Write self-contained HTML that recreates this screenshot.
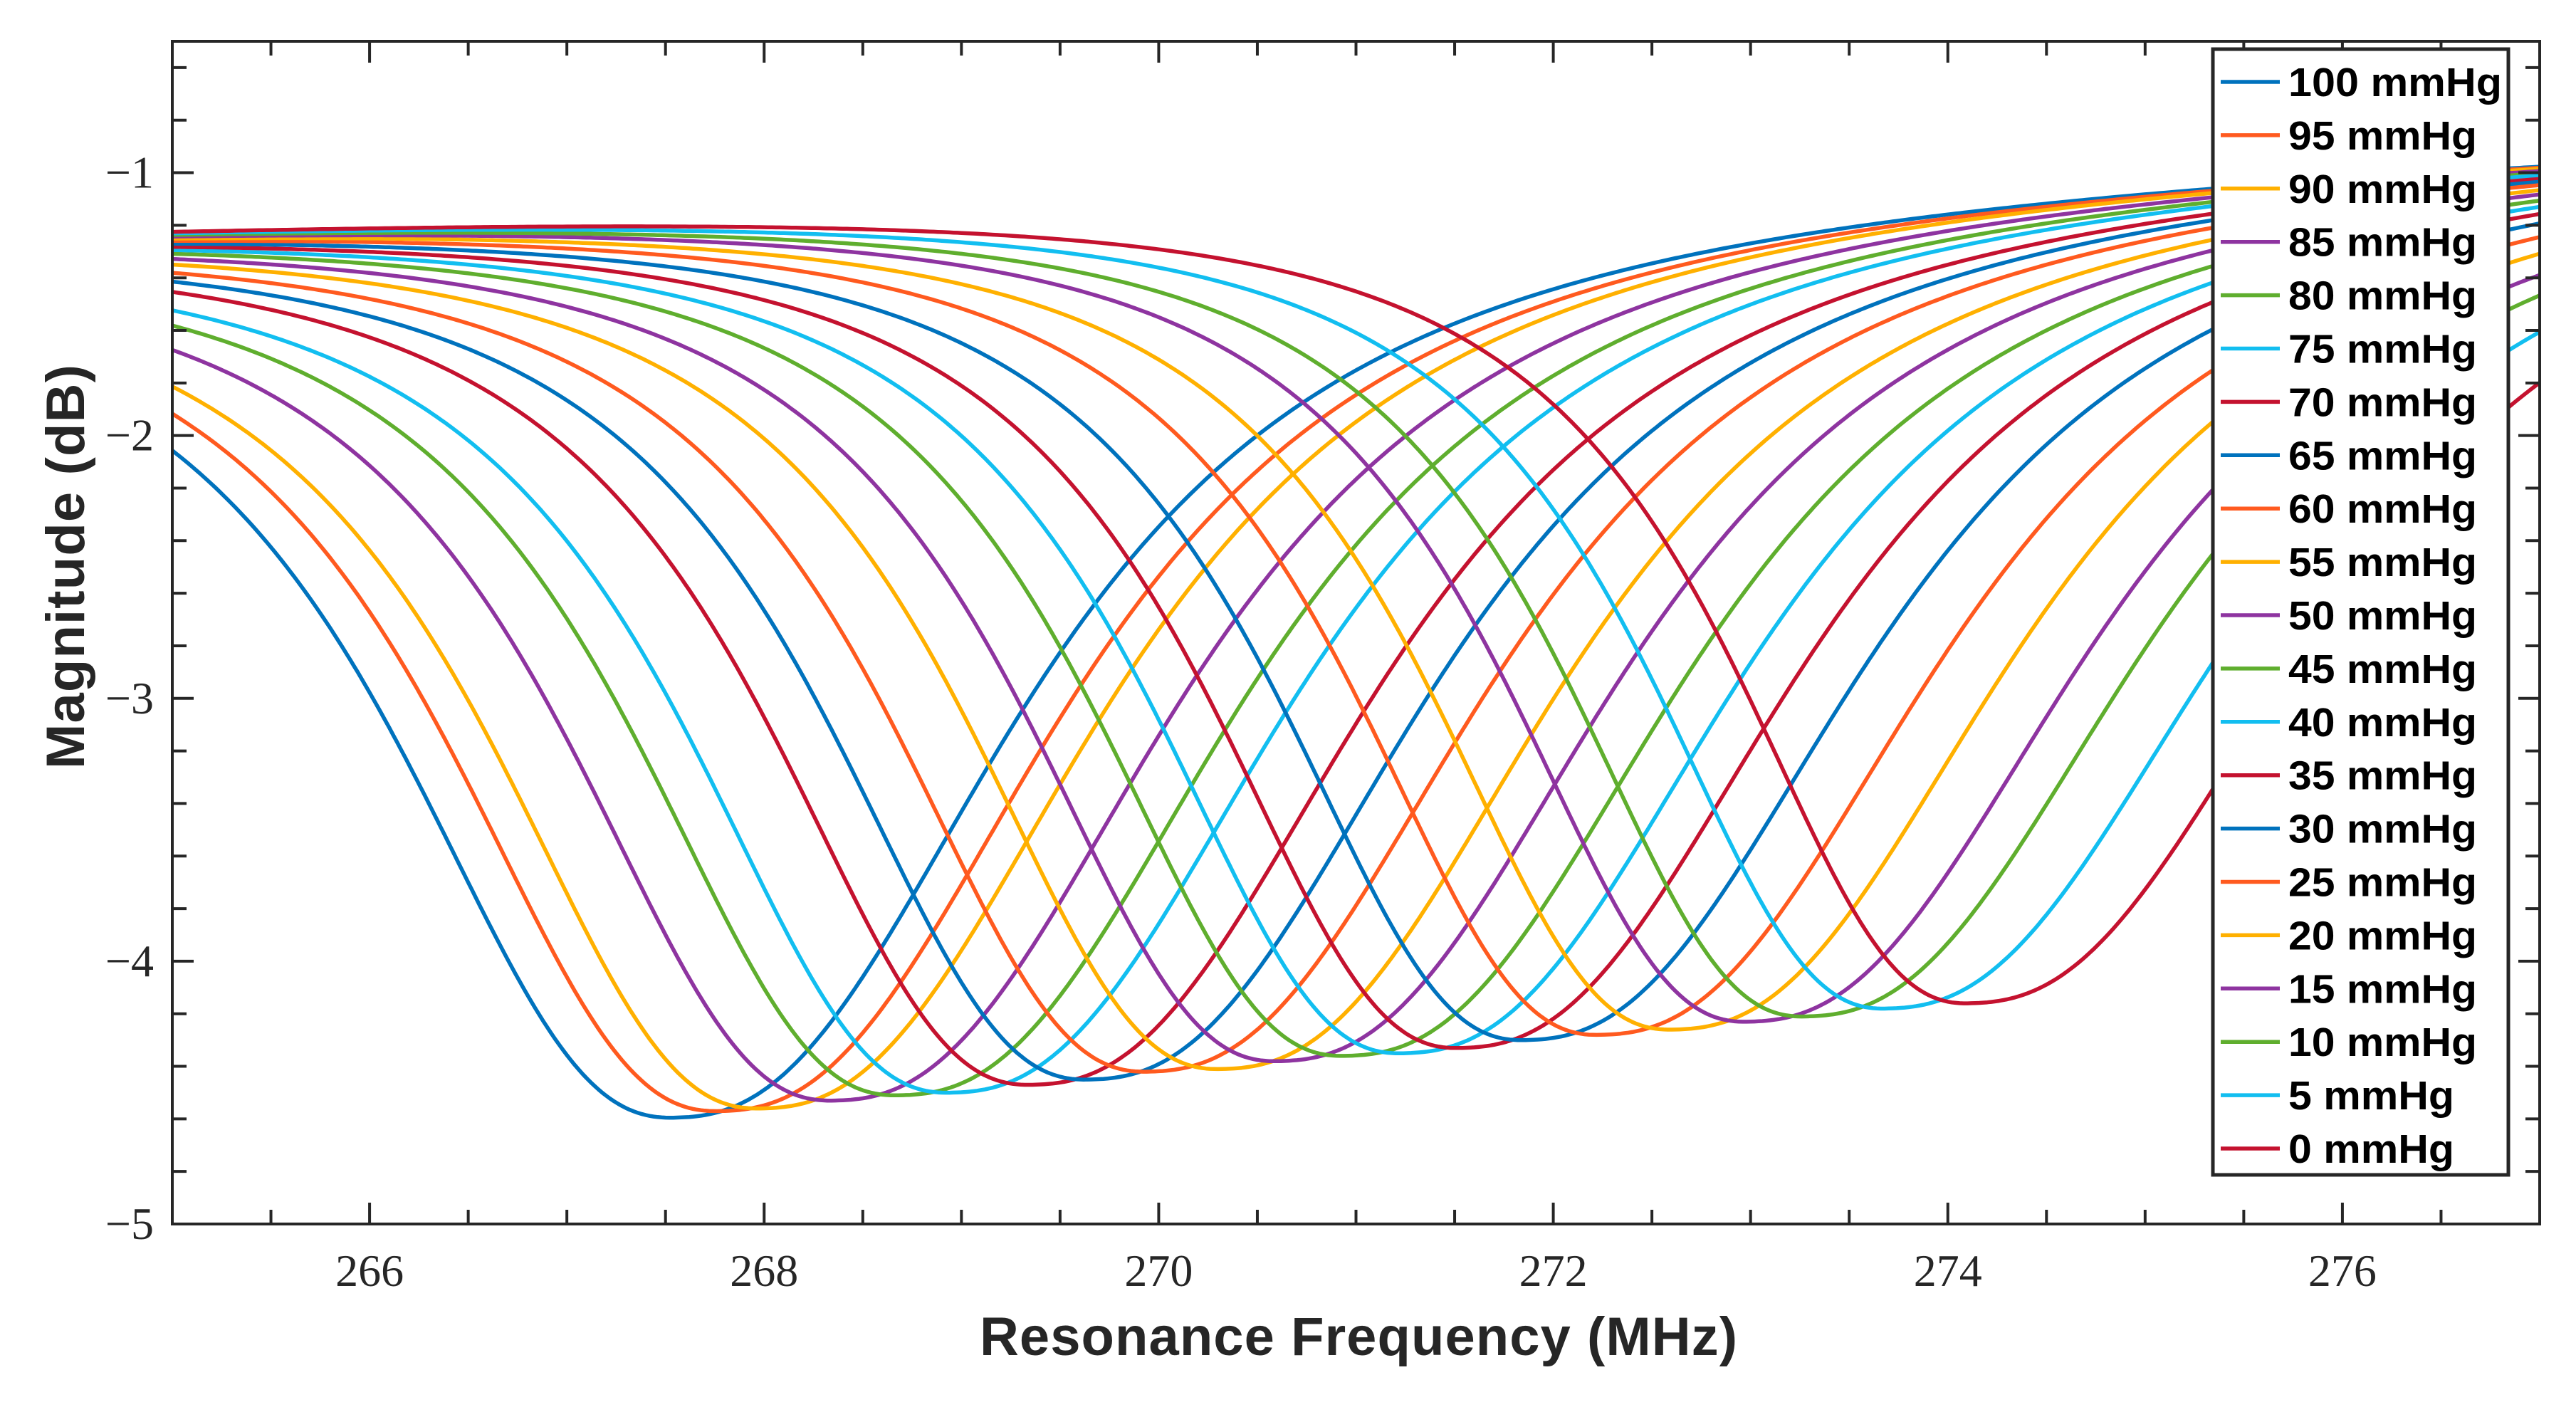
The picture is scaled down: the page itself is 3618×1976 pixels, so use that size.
<!DOCTYPE html>
<html><head><meta charset="utf-8"><style>
html,body{margin:0;padding:0;background:#fff;}
svg{display:block;}
</style></head><body>
<svg id="chart" width="3618" height="1976" viewBox="0 0 3618 1976" xmlns="http://www.w3.org/2000/svg">
<rect x="0" y="0" width="3618" height="1976" fill="#fff"/>
<g id="plot"></g>
<g id="axes"></g>
<g id="legend"></g>
<text x="1908" y="1903" text-anchor="middle" font-family="Liberation Sans, sans-serif" font-weight="bold" font-size="76" textLength="1064" fill="#262626">Resonance Frequency (MHz)</text>
<text transform="translate(118,796) rotate(-90)" text-anchor="middle" font-family="Liberation Sans, sans-serif" font-weight="bold" font-size="76" textLength="568" fill="#262626">Magnitude (dB)</text>
</svg>
<script>
// ---- data ----
const seriesLabels = ["100 mmHg","95 mmHg","90 mmHg","85 mmHg","80 mmHg","75 mmHg","70 mmHg","65 mmHg","60 mmHg","55 mmHg","50 mmHg","45 mmHg","40 mmHg","35 mmHg","30 mmHg","25 mmHg","20 mmHg","15 mmHg","10 mmHg","5 mmHg","0 mmHg"];
const minFreq = [267.56,267.79,268.0,268.37,268.7,268.96,269.37,269.66,269.96,270.33,270.62,270.96,271.25,271.54,271.87,272.25,272.62,273.0,273.29,273.7,274.12];
const minMag = [-4.595,-4.57,-4.56,-4.53,-4.51,-4.50,-4.47,-4.45,-4.42,-4.41,-4.38,-4.36,-4.35,-4.33,-4.30,-4.28,-4.26,-4.23,-4.21,-4.18,-4.16];
const leftWidth = [1.62,1.61,1.6,1.59,1.58,1.57,1.56,1.55,1.54,1.53,1.52,1.51,1.5,1.49,1.48,1.47,1.46,1.45,1.43,1.42,1.4];
const rightWidth = [1.95,1.95,1.95,1.95,1.95,1.95,1.95,1.95,1.95,1.95,1.95,1.95,1.95,1.95,1.95,1.95,1.95,1.95,1.95,1.95,1.95];
const baseStart = -1.19, baseEnd = -0.9;
const xTicks = [266,268,270,272,274,276];
const yTicks = [-1,-2,-3,-4,-5];
const palette = ["#0072BD","#FF5A1F","#FFB000","#8E34A0","#5FAE2E","#12BEF0","#C4122F"];

// ---- axes ----
const X0=242, X1=3567, Y0=58, Y1=1719;
const xMin=265, xMax=277, yMin=-5, yMax=-0.5;
const sx = v => X0 + (v-xMin)/(xMax-xMin)*(X1-X0);
const sy = v => Y1 - (v-yMin)/(yMax-yMin)*(Y1-Y0);
const NS="http://www.w3.org/2000/svg";
function mk(tag, attrs, parent){const e=document.createElementNS(NS,tag);for(const k in attrs)e.setAttribute(k,attrs[k]);parent.appendChild(e);return e;}

const plot=document.getElementById('plot');
const clip=mk('clipPath',{id:'clp'},document.getElementById('chart'));
mk('rect',{x:X0,y:Y0,width:X1-X0,height:Y1-Y0},clip);
plot.setAttribute('clip-path','url(#clp)');

for(let i=0;i<seriesLabels.length;i++){
  const f0=minFreq[i], m=minMag[i];
  let pts=[];
  for(let f=xMin; f<=xMax+1e-9; f+=0.02){
    const base = baseStart + (baseEnd-baseStart)*(f-xMin)/(xMax-xMin);
    const base0 = baseStart + (baseEnd-baseStart)*(f0-xMin)/(xMax-xMin);
    const D = base0 - m;
    const w = f<f0 ? leftWidth[i] : rightWidth[i];
    const g = 1/(1+Math.pow(Math.abs(f-f0)/w,2.4));
    const y = base - D*g;
    pts.push(sx(f).toFixed(1)+','+sy(y).toFixed(1));
  }
  const pl=mk('polyline',{points:pts.join(' '),fill:'none',stroke:palette[i%7],'stroke-width':5.5,'stroke-linejoin':'round'},plot);
  
  
}

const axes=document.getElementById('axes');
mk('rect',{x:X0,y:Y0,width:X1-X0,height:Y1-Y0,fill:'none',stroke:'#262626','stroke-width':4},axes);
for(let v=xMin; v<=xMax+1e-9; v+=0.5){
  const major = Math.abs(v-Math.round(v))<1e-9 && Math.round(v)%2===0;
  const L = major?30:20;
  mk('line',{x1:sx(v),y1:Y1,x2:sx(v),y2:Y1-L,stroke:'#262626','stroke-width':4},axes);
  mk('line',{x1:sx(v),y1:Y0,x2:sx(v),y2:Y0+L,stroke:'#262626','stroke-width':4},axes);
}
for(let k=0;k<=22;k++){
  const v=yMin+k*0.2;
  const major = Math.abs(v-Math.round(v))<1e-6;
  const L = major?30:20;
  mk('line',{x1:X0,y1:sy(v),x2:X0+L,y2:sy(v),stroke:'#262626','stroke-width':4},axes);
  mk('line',{x1:X1,y1:sy(v),x2:X1-L,y2:sy(v),stroke:'#262626','stroke-width':4},axes);
}
xTicks.forEach(t=>{
  const tx=mk('text',{x:sx(t),y:1806,'text-anchor':'middle','font-family':'Liberation Serif, serif','font-size':64,fill:'#262626'},axes);
  tx.textContent=String(t);
  
  
});
yTicks.forEach(t=>{
  const tx=mk('text',{x:216,y:sy(t)+21,'text-anchor':'end','font-family':'Liberation Serif, serif','font-size':64,fill:'#262626'},axes);
  tx.textContent='\u2212'+Math.abs(t);
  
  
});

// ---- legend ----
const lg=document.getElementById('legend');
mk('rect',{x:3108,y:69,width:415,height:1581,fill:'#fff',stroke:'#262626','stroke-width':5},lg);
seriesLabels.forEach((s,i)=>{
  const y=115+i*74.9;
  const g=mk('g',{},lg);
  
  
  mk('line',{x1:3119,y1:y,x2:3202,y2:y,stroke:palette[i%7],'stroke-width':5.5},g);
  const len = s.length===8?300:(s.length===7?265:233);
  const t=mk('text',{x:3214,y:y+20,'font-family':'Liberation Sans, sans-serif','font-weight':'bold','font-size':57,textLength:len,lengthAdjust:'spacingAndGlyphs',fill:'#000'},g);
  t.textContent=s;
});
</script>
</body></html>
